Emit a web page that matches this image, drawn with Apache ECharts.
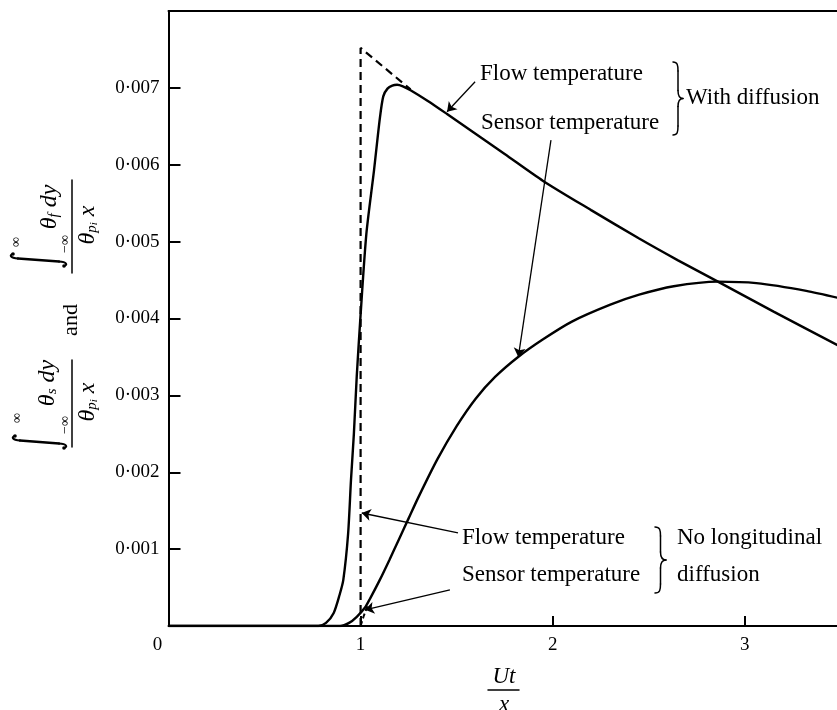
<!DOCTYPE html>
<html>
<head>
<meta charset="utf-8">
<title>Flow and sensor temperature</title>
<script src="https://cdn.jsdelivr.net/npm/echarts@6/dist/echarts.min.js"></script>
<style>
  html, body { margin: 0; padding: 0; background: #fff; }
  #chart { width: 837px; height: 710px; }
</style>
</head>
<body>
<div id="chart"></div>
<script>
var FONT = '"Liberation Serif", "Times New Roman", serif';

// abscissa Ut/x and ordinate (integrated temperature)
var flowDiffX = [0, 0.7, 0.78, 0.82, 0.86, 0.89, 0.91, 0.935, 0.95, 0.965, 0.98, 1.0, 1.03, 1.07, 1.1, 1.118, 1.14, 1.165, 1.19, 1.22, 1.26, 1.35, 1.45, 1.6, 1.75, 1.95, 2.2, 2.45, 2.65, 2.86, 3.15, 3.5];
var flowDiffY = [0, 0, 0, 0.00004, 0.00017, 0.0004, 0.0006, 0.0012, 0.0019, 0.0025, 0.00325, 0.00405, 0.0051, 0.00593, 0.0066, 0.00689, 0.00699, 0.00703, 0.00704, 0.00702, 0.00697, 0.00683, 0.00666, 0.0064, 0.00614, 0.00579, 0.00541, 0.00504, 0.00476, 0.00448, 0.00409, 0.00363];

var sensorDiffX = [0, 0.85, 0.893, 0.94, 0.98, 1.023, 1.05, 1.1, 1.15, 1.2, 1.25, 1.3, 1.4, 1.5, 1.6, 1.7, 1.82, 1.95, 2.1, 2.3, 2.45, 2.63, 2.86, 3.06, 3.32, 3.5];
var sensorDiffY = [0, 0, 0, 0.00004, 0.00012, 0.00024, 0.00036, 0.0006, 0.00086, 0.00113, 0.0014, 0.00167, 0.00217, 0.0026, 0.00296, 0.00324, 0.0035, 0.00373, 0.00396, 0.00418, 0.00431, 0.00442, 0.00448, 0.00446, 0.00436, 0.00426];

// no longitudinal diffusion (dashed)
var flowNoDiffX = [1, 1, 1.13, 1.26];
var flowNoDiffY = [0, 0.00752, 0.00725, 0.00698];
var sensorNoDiffX = [1, 1.015, 1.035];
var sensorNoDiffY = [0, 0.00012, 0.00026];

var xLabelValues = [0, 1, 2, 3];
var xTickValues = [1, 2, 3];
var yTickLabels = ['0·001', '0·002', '0·003', '0·004', '0·005', '0·006', '0·007'];

// arrows: [from, to] in chart coordinates
var arrowsFrom = [[1.596, 0.00708], [1.991, 0.00632], [1.507, 0.00121], [1.465, 0.00047]];
var arrowsTo = [[1.45, 0.00669], [1.821, 0.0035], [1.006, 0.00147], [1.023, 0.00021]];

function zip(xs, ys) {
    return xs.map(function (x, i) { return [x, ys[i]]; });
}

function seg(x1, y1, x2, y2, w) {
    return { type: 'line', silent: true, shape: { x1: x1, y1: y1, x2: x2, y2: y2 },
        style: { stroke: '#000', lineWidth: w || 1.5, lineCap: 'round' } };
}
function curve(x1, y1, c1x, c1y, c2x, c2y, x2, y2, w) {
    return { type: 'bezierCurve', silent: true,
        shape: { x1: x1, y1: y1, cpx1: c1x, cpy1: c1y, cpx2: c2x, cpy2: c2y, x2: x2, y2: y2 },
        style: { fill: null, stroke: '#000', lineWidth: w || 1.5, lineCap: 'round' } };
}
function dot(x, y, r) {
    return { type: 'circle', silent: true, shape: { cx: x, cy: y, r: r }, style: { fill: '#000' } };
}

// right curly brace from y1 to y2, x = left edge, w = width
function brace(x, y1, y2, w) {
    var m = (y1 + y2) / 2, h = x + w / 2;
    return [
        curve(x, y1, x + w * 0.45, y1, h, y1 + 3, h, y1 + 9),
        seg(h, y1 + 9, h, m - 8),
        curve(h, m - 8, h, m - 3, x + w * 0.7, m, x + w, m),
        curve(x + w, m, x + w * 0.7, m, h, m + 3, h, m + 8),
        seg(h, m + 8, h, y2 - 9),
        curve(h, y2 - 9, h, y2 - 3, x + w * 0.45, y2, x, y2)
    ];
}

// integral sign drawn upright in the (rotated) title group
function integral(cx, y1, y2) {
    return [
        curve(cx + 6, y1 + 3, cx + 5, y1 - 1, cx + 2, y1, cx + 1.5, y1 + 8, 2),
        seg(cx + 1.5, y1 + 8, cx - 1.5, y2 - 8, 2.6),
        curve(cx - 1.5, y2 - 8, cx - 2, y2, cx - 5, y2 + 1, cx - 6, y2 - 3, 2),
        dot(cx + 6, y1 + 3, 1.8),
        dot(cx - 6, y2 - 3, 1.8)
    ];
}

function txt(text, x, y, size, align, italic) {
    return {
        type: 'text', x: x, y: y, silent: true,
        style: {
            text: text, fill: '#000',
            font: (italic ? 'italic ' : '') + size + 'px ' + FONT,
            align: align || 'left', verticalAlign: 'middle'
        }
    };
}

var richMath = {
    v: { fontFamily: FONT, fontStyle: 'italic', fontSize: 24, color: '#000' },
    s: { fontFamily: FONT, fontStyle: 'italic', fontSize: 15, color: '#000', verticalAlign: 'bottom', padding: [6, 0, 0, 0] },
    ss: { fontFamily: FONT, fontStyle: 'italic', fontSize: 11, color: '#000', verticalAlign: 'bottom', padding: [10, 0, 0, 0] }
};

function richTxt(text, x, y) {
    return {
        type: 'text', x: x, y: y, silent: true,
        style: { text: text, rich: richMath, align: 'center', verticalAlign: 'middle' }
    };
}

function fraction(b0, b1, icx, iy1, iy2, up, lo, num, numPos, denPos) {
    return [seg(b0, 1, b1, 1, 1.5)]
        .concat(integral(icx, iy1, iy2))
        .concat([
            txt('∞', up[0], up[1], 14, 'center'),
            txt('−∞', lo[0], lo[1], 14, 'center'),
            richTxt(num, numPos[0], numPos[1]),
            richTxt('{v|θ}{s|p}{ss|i}{v| x}', denPos[0], denPos[1])
        ]);
}

var yTitle = {
    type: 'group', x: 71, y: 320, rotation: Math.PI / 2,
    children: [txt('and', 0, 0, 22, 'center')]
        .concat(fraction(47, 140, 60, -61, -4, [78, -55], [76, -6], '{v|θ}{s|f}{v| dy}', [113, -21], [95, 17]))
        .concat(fraction(-127, -40, -122, -59, -4, [-98, -54], [-105, -6], '{v|θ}{s|s}{v| dy}', [-63, -23], [-82, 17]))
};

var chart = echarts.init(document.getElementById('chart'));

var option = {
    animation: false,
    grid: { left: 168.5, right: 0, top: 11, bottom: 84 },
    xAxis: [{
        type: 'value', min: 0, max: 3.48, interval: 1,
        axisLine: { onZero: false, lineStyle: { color: '#000', width: 2 } },
        axisTick: { inside: true, length: 10, customValues: xTickValues, lineStyle: { color: '#000', width: 2 } },
        axisLabel: {
            customValues: xLabelValues, color: '#000', fontFamily: FONT, fontSize: 19, margin: 10,
            formatter: function (v) { return v === 0 ? '{z|0}' : String(v); },
            rich: { z: { fontFamily: FONT, fontSize: 19, color: '#000', padding: [0, 22, 0, 0] } }
        },
        splitLine: { show: false }
    }, {
        type: 'value', position: 'top', min: 0, max: 3.48,
        axisLine: { onZero: false, lineStyle: { color: '#000', width: 2 } },
        axisTick: { show: false }, axisLabel: { show: false }, splitLine: { show: false }
    }],
    yAxis: {
        type: 'value', min: 0, max: 0.008, interval: 0.001,
        axisLine: { onZero: false, lineStyle: { color: '#000', width: 2 } },
        axisTick: { inside: true, length: 12, lineStyle: { color: '#000', width: 2 } },
        axisLabel: {
            color: '#000', fontFamily: FONT, fontSize: 19, margin: 9,
            formatter: function (v) {
                var k = Math.round(v * 1000);
                return yTickLabels[k - 1] || '';
            }
        },
        splitLine: { show: false }
    },
    series: [{
        name: 'Flow temperature, with diffusion', type: 'line',
        data: zip(flowDiffX, flowDiffY), showSymbol: false, smooth: 0.25,
        lineStyle: { color: '#000', width: 2.4 },
        markLine: {
            silent: true, symbol: ['none', 'arrow'], symbolSize: 9,
            label: { show: false },
            lineStyle: { color: '#000', width: 1.3, type: 'solid' },
            data: arrowsFrom.map(function (p, i) {
                return [{ coord: p }, { coord: arrowsTo[i] }];
            })
        }
    }, {
        name: 'Sensor temperature, with diffusion', type: 'line',
        data: zip(sensorDiffX, sensorDiffY), showSymbol: false, smooth: 0.25,
        lineStyle: { color: '#000', width: 2.4 }
    }, {
        name: 'Flow temperature, no longitudinal diffusion', type: 'line',
        data: zip(flowNoDiffX, flowNoDiffY), showSymbol: false,
        lineStyle: { color: '#000', width: 2.2, type: [8, 5] }
    }, {
        name: 'Sensor temperature, no longitudinal diffusion', type: 'line',
        data: zip(sensorNoDiffX, sensorNoDiffY), showSymbol: false,
        lineStyle: { color: '#000', width: 2, type: [5, 3] }
    }],
    graphic: [
        txt('Flow temperature', 480, 74, 23),
        txt('Sensor temperature', 481, 123, 23),
        txt('With diffusion', 686, 98, 23),
        { type: 'group', children: brace(673, 62, 135, 10) },
        txt('Flow temperature', 462, 538, 23),
        txt('Sensor temperature', 462, 575, 23),
        txt('No longitudinal', 677, 538, 23),
        txt('diffusion', 677, 575, 23),
        { type: 'group', children: brace(655, 527, 593, 11) },
        txt('Ut', 504, 677, 23, 'center', true),
        seg(488, 690, 519, 690, 1.5),
        txt('x', 504, 705, 23, 'center', true),
        yTitle
    ]
};

chart.setOption(option);
</script>
</body>
</html>
